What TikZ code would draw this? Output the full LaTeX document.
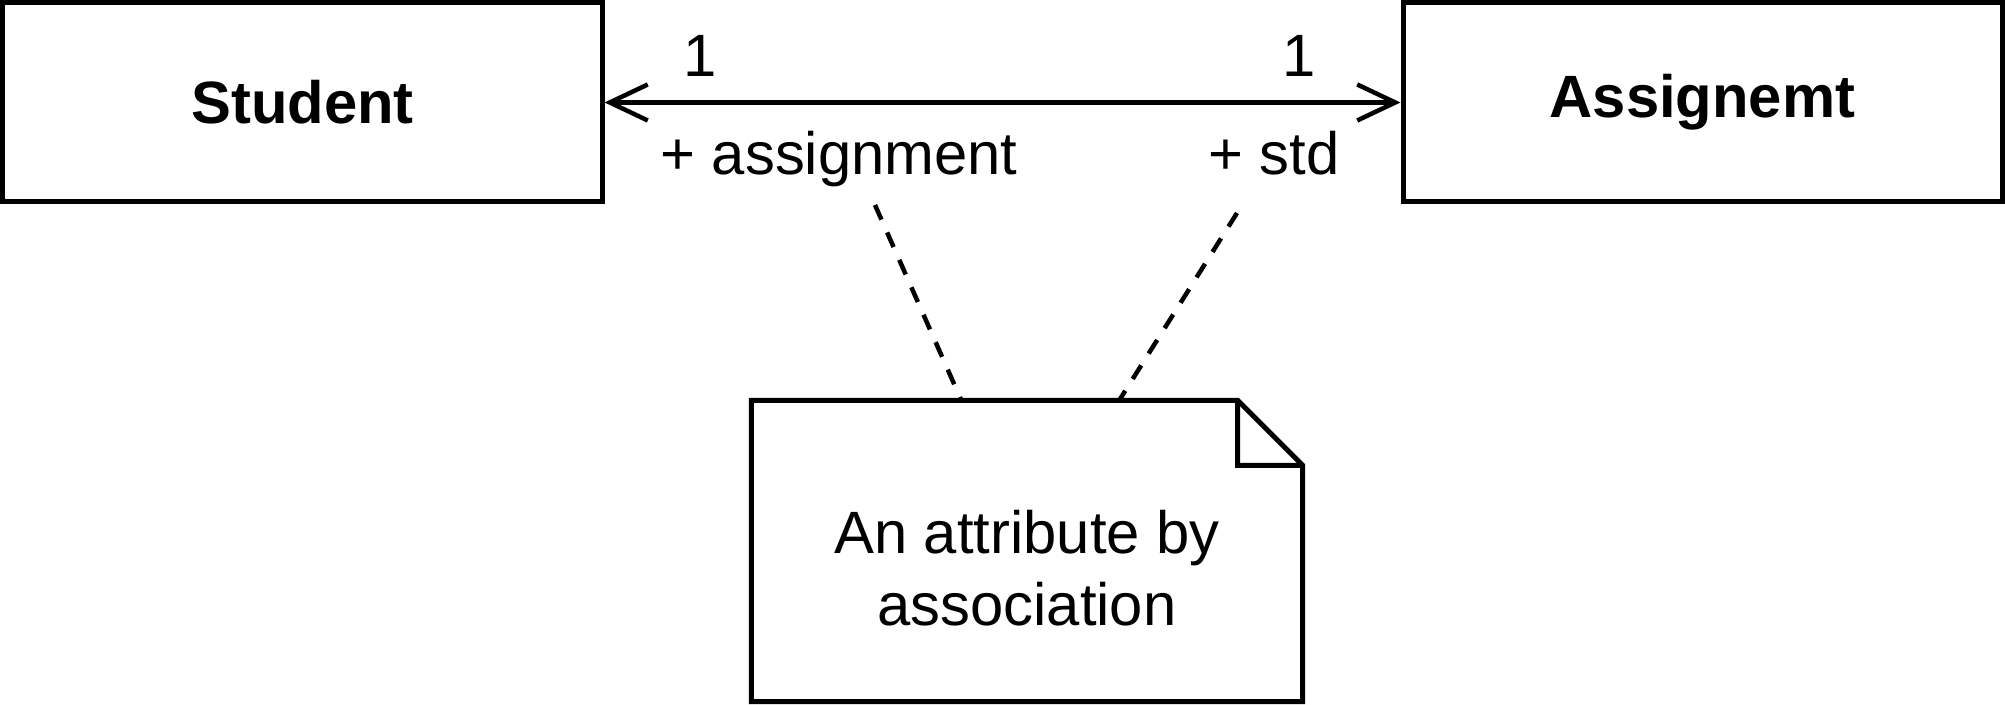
\documentclass[tikz,border=0pt]{standalone}
\usepackage{fontspec}
\setmainfont{Liberation Sans}
\usepackage{tikz}
\usetikzlibrary{positioning,calc,arrows.meta}

\begin{document}
\begin{tikzpicture}[
  x=1cm,y=1cm,
  every node/.style={align=center, font=\fontsize{17}{20.4}\selectfont},
  classbox/.style={draw, line width=.05cm, minimum width=5.99cm, minimum height=1.99cm, inner sep=0pt, font=\fontsize{17}{20.4}\selectfont\bfseries},
  rolelbl/.style={anchor=base, inner sep=0pt},
  assoc/.style={line width=.045cm, {Straight Barb[length=.38cm,width=.36cm]}-{Straight Barb[length=.38cm,width=.36cm]}},
  dashline/.style={line width=.045cm, dash pattern=on .16cm off .14cm},
  noteline/.style={line width=.05cm}
]
\path[use as bounding box] (0,0) rectangle (20.05,7.05);

\node[classbox] (student) at (3.025,6.025) {Student};
\node[classbox] (assign) at (17.025,6.025) {Assignemt};

\draw[assoc] (student.east) -- (assign.west);

\node[rolelbl] (mult1) at (7.00,6.28) {1};
\node[rolelbl] (mult2) at (12.99,6.28) {1};
\node[rolelbl] (rolea) at (8.39,5.30) {+ assignment};
\node[rolelbl] (roles) at (12.74,5.30) {+ std};

% note with folded corner
\node[minimum width=5.5cm, minimum height=3.0cm, inner sep=0pt] (note) at (10.27,1.54) {};
\node (notetext) at ([yshift=-.17cm]note.center) {An attribute by\\association};
\draw[noteline] (note.south west) -- (note.north west)
  -- ([xshift=-.65cm]note.north east) -- ([yshift=-.65cm]note.north east)
  -- (note.south east) -- cycle;
\draw[noteline] ([xshift=-.65cm]note.north east) -- ++(0,-.65)
  -- ([yshift=-.65cm]note.north east);

\coordinate (linka) at (8.75,5.00);
\coordinate (links) at (12.37,4.92);
\draw[dashline] (linka) -- ($(note.north west)+(2.10,0)$);
\draw[dashline] (links) -- ($(note.north west)+(3.68,0)$);
\end{tikzpicture}
\end{document}
